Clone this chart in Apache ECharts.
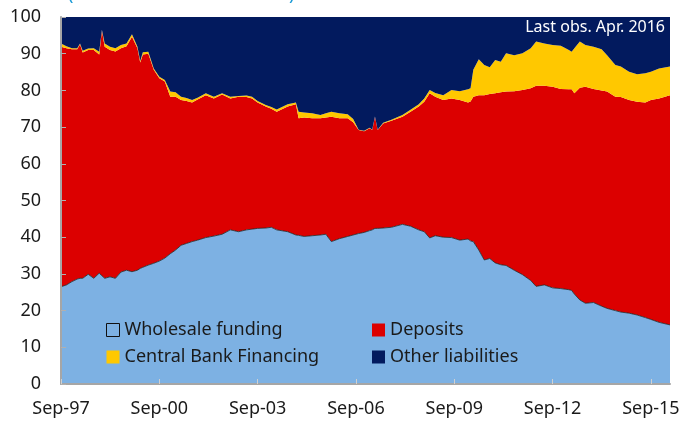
<!DOCTYPE html>
<html>
<head>
<meta charset="utf-8">
<script src="https://cdn.jsdelivr.net/npm/echarts@6/dist/echarts.min.js"></script>
<style>
  html, body { margin: 0; padding: 0; background: #fff; }
  #chart { width: 683px; height: 423px; }
</style>
</head>
<body>
<div id="chart"></div>
<script>
// monthly obs (not every month)
const dates = [
  '1997-09','1997-11','1998-01','1998-03','1998-04','1998-05','1998-07','1998-09','1998-11','1998-12',
  '1999-01','1999-03','1999-05','1999-07','1999-09','1999-11','2000-01','2000-02','2000-03','2000-05',
  '2000-07','2000-09','2000-11','2001-01','2001-03','2001-05','2001-07','2001-09','2001-11','2002-02',
  '2002-05','2002-08','2002-11','2003-02','2003-05','2003-07','2003-09','2003-12','2004-02','2004-04',
  '2004-08','2004-11','2004-12','2005-02','2005-05','2005-08','2005-10','2005-12','2006-03','2006-06',
  '2006-08','2006-10','2006-12','2007-02','2007-03','2007-04','2007-05','2007-07','2007-10','2008-02',
  '2008-05','2008-08','2008-10','2008-12','2009-02','2009-05','2009-08','2009-11','2010-02','2010-03',
  '2010-04','2010-06','2010-08','2010-10','2010-12','2011-02','2011-04','2011-07','2011-10','2012-01',
  '2012-03','2012-06','2012-09','2012-12','2013-03','2013-04','2013-05','2013-07','2013-09','2013-12',
  '2014-03','2014-05','2014-08','2014-10','2015-01','2015-04','2015-07','2015-09','2015-12','2016-04'
]

const wholesale = [
  26.5, 27.0, 27.9, 28.6, 28.8, 28.8, 29.9, 28.8, 30.2, 29.5,
  28.8, 29.2, 28.8, 30.5, 31.0, 30.6, 31.0, 31.5, 31.8, 32.4,
  32.9, 33.5, 34.3, 35.5, 36.5, 37.8, 38.3, 38.8, 39.2, 39.9,
  40.3, 40.8, 42.0, 41.5, 42.0, 42.2, 42.4, 42.5, 42.7, 42.0,
  41.5, 40.6, 40.5, 40.2, 40.4, 40.6, 40.8, 38.8, 39.6, 40.2,
  40.6, 41.0, 41.3, 41.8, 42.0, 42.4, 42.4, 42.5, 42.7, 43.5,
  43.0, 42.0, 41.5, 39.8, 40.4, 40.0, 39.9, 39.2, 39.5, 39.0,
  38.8, 36.5, 33.8, 34.2, 33.0, 32.5, 32.3, 31.0, 29.8, 28.2,
  26.6, 27.0, 26.2, 26.0, 25.7, 25.5, 24.5, 22.9, 22.0, 22.2,
  21.2, 20.6, 20.0, 19.6, 19.3, 18.8, 18.1, 17.6, 16.8, 16.1
]

const deposits = [
  65.4, 64.5, 63.3, 62.6, 63.8, 61.5, 61.1, 62.2, 59.6, 66.8,
  63.1, 61.8, 61.8, 61.0, 61.0, 64.0, 60.5, 56.1, 58.0, 57.6,
  52.7, 49.8, 48.1, 42.8, 41.8, 39.6, 38.8, 37.9, 38.3, 38.8,
  37.5, 38.1, 35.8, 36.8, 36.2, 35.6, 34.3, 33.1, 32.3, 32.2,
  34.1, 35.6, 31.9, 32.4, 32.0, 31.8, 31.8, 34.0, 32.8, 32.2,
  30.7, 28.2, 27.6, 27.9, 27.2, 30.4, 26.8, 28.5, 29.0, 29.3,
  31.2, 33.6, 35.4, 39.4, 37.9, 37.4, 37.9, 38.2, 37.2, 38.0,
  39.5, 42.2, 44.9, 44.8, 46.2, 47.0, 47.4, 48.8, 50.3, 52.4,
  54.7, 54.3, 54.8, 54.4, 54.6, 54.8, 54.7, 57.8, 59.0, 58.2,
  58.8, 59.1, 58.3, 58.6, 58.1, 58.1, 58.6, 59.8, 61.0, 62.6
]

const centralBank = [
  0.9, 0.5, 0.3, 0.3, 0.2, 0.5, 0.4, 0.5, 0.7, 0.2,
  0.9, 0.9, 0.9, 0.9, 0.8, 0.7, 0.4, 0.4, 0.6, 0.5,
  0.4, 0.4, 0.4, 1.4, 1.2, 0.9, 0.8, 0.7, 0.5, 0.5,
  0.5, 0.3, 0.5, 0.2, 0.4, 0.5, 0.4, 0.4, 0.5, 0.6,
  0.6, 0.5, 1.8, 1.4, 1.4, 0.9, 1.2, 1.4, 1.4, 1.1,
  0.9, 0.1, 0.1, 0.1, 0.1, 0.1, 0.1, 0.2, 0.3, 0.5,
  0.5, 0.6, 0.9, 0.9, 1.0, 1.3, 2.3, 2.4, 3.6, 3.6,
  7.3, 9.8, 8.2, 7.3, 9.1, 8.3, 10.4, 9.8, 10.0, 10.9,
  12.0, 11.5, 11.4, 11.8, 10.7, 10.2, 12.3, 12.6, 11.4, 11.5,
  11.2, 9.9, 8.6, 8.3, 7.7, 7.5, 8.0, 7.7, 8.2, 7.8
]

// whatever is left up to 100
const otherLiab = wholesale.map((w, i) => +(100 - w - deposits[i] - centralBank[i]).toFixed(1))

const xTickLabels = ['Sep-97', 'Sep-00', 'Sep-03', 'Sep-06', 'Sep-09', 'Sep-12', 'Sep-15']

const toTime = (s) => {
  const [y, m] = s.split('-').map(Number)
  return Date.UTC(y, m - 1, 1)
}
// months since Sep-97, only used for the label axis
const toMonth = (s) => {
  const [y, m] = s.split('-').map(Number)
  return (y - 1997) * 12 + (m - 9)
}
const ts = dates.map(toTime)
const pairs = (arr) => arr.map((v, i) => [ts[i], v])

const font = '"Noto Sans", "Open Sans", sans-serif'
const axisGrey = '#a6a6a6'

const areaSeries = (name, data, color, line) => ({
  name,
  type: 'line',
  stack: 'total',
  xAxisIndex: 0,
  data: pairs(data),
  symbol: 'none',
  color,
  lineStyle: line ? { width: 0.8, color: '#222' } : { width: 0 },
  areaStyle: { color, opacity: 1 },
  emphasis: { disabled: true },
  z: line ? 3 : 2,
})

const legendText = { fontSize: 18, color: '#1a1a1a', lineHeight: 18, padding: [0, 0, 0, 0] }

const chart = echarts.init(document.getElementById('chart'), null, { renderer: 'canvas' })

chart.setOption({
  animation: false,
  textStyle: { fontFamily: font },
  grid: { left: 61, right: 13, top: 17, bottom: 39 },
  xAxis: [
    {
      // data axis
      type: 'time',
      min: toTime(dates[0]),
      max: toTime(dates[dates.length - 1]),
      axisLine: { show: false },
      axisTick: { show: false },
      axisLabel: { show: false },
      splitLine: { show: false },
    },
    {
      // label axis, in months
      type: 'value',
      position: 'bottom',
      min: 0,
      max: toMonth(dates[dates.length - 1]),
      interval: 36,
      axisLine: { show: true, onZero: false, lineStyle: { color: axisGrey, width: 2 } },
      axisTick: { show: true, inside: true, length: 5, lineStyle: { color: '#d0d0d0' } },
      splitLine: { show: false },
      axisLabel: {
        showMaxLabel: false,
        fontSize: 18,
        color: '#1a1a1a',
        margin: 16,
        formatter: (v) => xTickLabels[Math.round(v / 36)] || '',
      },
      z: 10,
    },
  ],
  yAxis: {
    type: 'value',
    min: 0,
    max: 100,
    interval: 10,
    axisLine: { show: true, lineStyle: { color: axisGrey, width: 2 } },
    axisTick: { show: true, inside: true, length: 5, lineStyle: { color: '#b0b0b0' } },
    splitLine: { show: false },
    axisLabel: { fontSize: 18, color: '#1a1a1a', margin: 20 },
    z: 10,
  },
  legend: [
    {
      orient: 'vertical',
      left: 101,
      top: 316,
      itemWidth: 13,
      itemHeight: 13,
      itemGap: 9,
      textStyle: legendText,
      data: [
        { name: 'Wholesale funding', icon: 'rect', itemStyle: { color: 'rgba(0,0,0,0)', borderColor: '#111', borderWidth: 1 } },
        { name: 'Central Bank Financing', icon: 'rect' },
      ],
    },
    {
      orient: 'vertical',
      left: 367,
      top: 316,
      itemWidth: 13,
      itemHeight: 13,
      itemGap: 9,
      textStyle: legendText,
      data: [
        { name: 'Deposits', icon: 'rect' },
        { name: 'Other liabilities', icon: 'rect' },
      ],
    },
  ],
  graphic: [
    {
      type: 'text',
      left: 68,
      top: -14,
      silent: true,
      style: { text: '(Percent of Total Liabilities)', fill: '#1a9ad6', font: '18px ' + font },
    },
    {
      type: 'text',
      right: 18,
      top: 19,
      z: 100,
      silent: true,
      style: { text: 'Last obs. Apr. 2016', fill: '#ffffff', font: '16px ' + font },
    },
  ],
  series: [
    areaSeries('Wholesale funding', wholesale, '#7db1e3', true),
    areaSeries('Deposits', deposits, '#dc0000'),
    areaSeries('Central Bank Financing', centralBank, '#ffc800'),
    areaSeries('Other liabilities', otherLiab, '#021a5e'),
  ],
})
</script>
</body>
</html>
